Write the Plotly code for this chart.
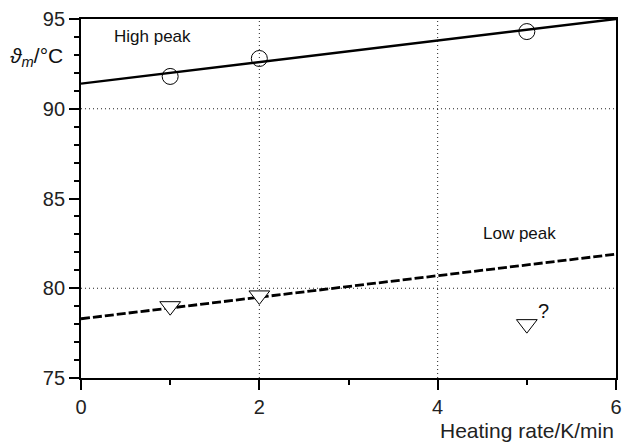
import plotly.graph_objects as go

# Measured peak temperatures vs heating rate
rate = [1, 2, 5]
high_peak = [91.8, 92.8, 94.3]
low_peak = [79.0, 79.6]
low_rate = [1, 2]
odd_rate = [5]
odd_peak = [78.0]

# Linear trend lines (end points at 0 and 6 K/min)
fit_x = [0, 6]
high_fit = [91.4, 95.0]
low_fit = [78.3, 81.9]

x_ticks = [0, 2, 4, 6]
y_ticks = [75, 80, 85, 90, 95]

font = "Liberation Sans, Arial, sans-serif"

fig = go.Figure()

fig.add_trace(go.Scatter(x=fit_x, y=high_fit, mode="lines",
                         line=dict(color="black", width=2.4), hoverinfo="skip"))
fig.add_trace(go.Scatter(x=fit_x, y=low_fit, mode="lines",
                         line=dict(color="black", width=2.8, dash="9px,3px"), hoverinfo="skip"))
fig.add_trace(go.Scatter(x=rate, y=high_peak, mode="markers",
                         marker=dict(symbol="circle-open", size=16, color="black",
                                     line=dict(width=1, color="black"))))
fig.add_trace(go.Scatter(x=low_rate, y=low_peak, mode="markers",
                         marker=dict(symbol="triangle-down", size=18, color="white",
                                     line=dict(width=1, color="black"))))
fig.add_trace(go.Scatter(x=odd_rate, y=odd_peak, mode="markers",
                         marker=dict(symbol="triangle-down", size=18, color="white",
                                     line=dict(width=1, color="black"))))

fig.add_annotation(x=0.35, y=94.05, text="High peak", showarrow=False,
                   xanchor="left", font=dict(size=17, family=font, color="#111"))
fig.add_annotation(x=4.49, y=83.05, text="Low peak", showarrow=False,
                   xanchor="left", font=dict(size=17, family=font, color="#111"))
fig.add_annotation(x=5.1, y=78.75, text="?", showarrow=False,
                   xanchor="left", font=dict(size=20, family=font, color="#111"))

fig.add_annotation(xref="paper", yref="paper", x=-0.137, y=0.935,
                   text="<i>ϑ</i><sub><i>m</i></sub>/°C", showarrow=False,
                   xanchor="left", font=dict(size=21, family=font, color="#111"))
fig.add_annotation(xref="paper", yref="paper", x=1.0, y=-0.145,
                   text="Heating rate/K/min", showarrow=False, xanchor="right",
                   yanchor="middle", font=dict(size=21, family=font, color="#222"))

axis_common = dict(showline=True, linecolor="black", linewidth=1.8, mirror=True,
                   ticks="outside", tickcolor="black", tickwidth=1.5, ticklen=10,
                   zeroline=False, tickfont=dict(size=20, family=font, color="#222"),
                   showgrid=False)

fig.update_xaxes(range=[0, 6], tickvals=x_ticks,
                 minor=dict(dtick=1, ticks="outside", ticklen=5, tickcolor="black",
                            tickwidth=1.5, showgrid=False),
                 **axis_common)
fig.update_yaxes(range=[75, 95], tickvals=y_ticks,
                 minor=dict(dtick=1, ticks="outside", ticklen=5, tickcolor="black",
                            tickwidth=1.5, showgrid=False),
                 **axis_common)

# dotted grid only at the inner values
for gx in [2, 4]:
    fig.add_shape(type="line", x0=gx, x1=gx, y0=75, y1=95, layer="below",
                  line=dict(color="#222", width=1, dash="1px,3px"))
for gy in [80, 90]:
    fig.add_shape(type="line", x0=0, x1=6, y0=gy, y1=gy, layer="below",
                  line=dict(color="#222", width=1, dash="1px,3px"))

fig.update_layout(width=630, height=444, showlegend=False,
                  plot_bgcolor="white", paper_bgcolor="white",
                  margin=dict(l=81, r=8, t=18, b=66))

fig.write_html("out.html")
